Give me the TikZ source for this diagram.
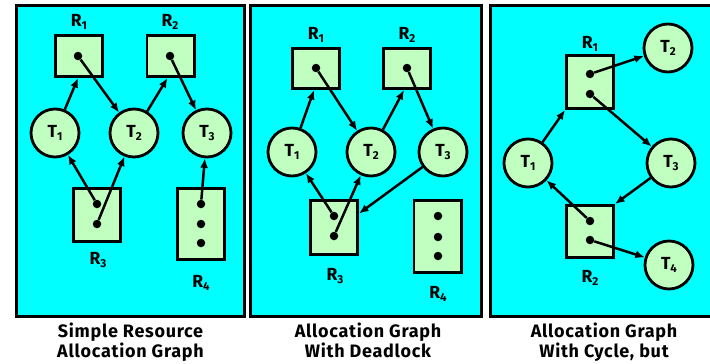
\documentclass[tikz,border=0pt]{standalone}
\usepackage{fontspec}
\setmainfont{Fira Sans}
\usetikzlibrary{arrows.meta}
\definecolor{panelcyan}{RGB}{0,255,255}
\definecolor{nodegreen}{RGB}{192,255,192}
\newcommand\lowidx[1]{\raisebox{-3pt}{\fontsize{11.5}{11.5}\selectfont #1}}
\tikzset{
  panel/.style={draw=black, line width=3pt, fill=panelcyan},
  proc/.style={circle, draw, line width=2.8pt, fill=nodegreen, minimum size=48pt,
    inner sep=0pt, font=\bfseries\fontsize{17.5}{17.5}\selectfont},
  res/.style={rectangle, draw, line width=2.8pt, fill=nodegreen, inner sep=0pt,
    minimum width=47.2pt},
  dot/.style={circle, fill=black, minimum size=8.5pt, inner sep=0pt},
  lbl/.style={anchor=base, inner sep=0pt, font=\bfseries\fontsize{17.5}{17.5}\selectfont},
  captext/.style={anchor=base, inner sep=0pt,
    font=\bfseries\fontsize{18}{18}\selectfont\addfontfeatures{LetterSpace=4}},
  conn/.style={line width=2.5pt, -{Latex[length=9.5pt,width=8pt]}},
}
\begin{document}
\begin{tikzpicture}[x=1pt,y=-1pt]
\useasboundingbox (0,0) rectangle (710,364);

% ---------- Simple resource allocation graph ----------
\draw[panel] (16.5,5.5) rectangle (244.5,316.5);
\node[res, minimum height=41.2pt] (aR1) at (79,56) {};
\node[res, minimum height=41.2pt] (aR2) at (170.5,56) {};
\node[res, minimum height=53.2pt] (aR3) at (97,215) {};
\node[res, minimum height=71.2pt] (aR4) at (201,224) {};
\node[proc] (aT1) at (55,133) {T\lowidx{1}};
\node[proc] (aT2) at (134,133) {T\lowidx{2}};
\node[proc] (aT3) at (207,133) {T\lowidx{3}};
\node[dot] (aR1a) at (78,56) {};
\node[dot] (aR2a) at (170,56) {};
\node[dot] (aR3a) at (97,204) {};
\node[dot] (aR3b) at (97,224) {};
\node[dot] (aR4a) at (201,204) {};
\node[dot] (aR4b) at (201,224) {};
\node[dot] (aR4c) at (201,243) {};
\node[lbl] (aL1) at (79,27) {R\lowidx{1}};
\node[lbl] (aL2) at (170,27) {R\lowidx{2}};
\node[lbl] (aL3) at (98,264) {R\lowidx{3}};
\node[lbl] (aL4) at (201,287) {R\lowidx{4}};
\draw[conn] (aT1) -- ([xshift=-1pt]aR1.south);
\draw[conn] (aR1a) -- (aT2);
\draw[conn] (aT2) -- ([xshift=-3pt]aR2.south);
\draw[conn] (aR2a) -- (aT3);
\draw[conn] (aR3a) -- (aT1);
\draw[conn] (aR3b) -- (aT2);
\draw[conn] (aR4a) -- (aT3);
\node[captext] (aC1) at (130.5,337) {Simple Resource};
\node[captext] (aC2) at (130.5,357) {Allocation Graph};

% ---------- Allocation graph with deadlock ----------
\draw[panel] (250,5.5) rectangle (481.5,316.5);
\node[res, minimum height=40.2pt] (bR1) at (316,68.5) {};
\node[res, minimum height=40.2pt] (bR2) at (407,68.5) {};
\node[res, minimum height=54.2pt] (bR3) at (334,227.5) {};
\node[res, minimum height=72.2pt] (bR4) at (437.5,236.5) {};
\node[proc] (bT1) at (292,152) {T\lowidx{1}};
\node[proc] (bT2) at (371,152) {T\lowidx{2}};
\node[proc] (bT3) at (443,152) {T\lowidx{3}};
\node[dot] (bR1a) at (316,68) {};
\node[dot] (bR2a) at (407,68) {};
\node[dot] (bR3a) at (334,216) {};
\node[dot] (bR3b) at (334,236) {};
\node[dot] (bR4a) at (438,216) {};
\node[dot] (bR4b) at (438,237) {};
\node[dot] (bR4c) at (438,256) {};
\node[lbl] (bL1) at (316,39) {R\lowidx{1}};
\node[lbl] (bL2) at (407,39) {R\lowidx{2}};
\node[lbl] (bL3) at (335,280) {R\lowidx{3}};
\node[lbl] (bL4) at (438,298) {R\lowidx{4}};
\draw[conn] (bT1) -- ([xshift=-2pt]bR1.south);
\draw[conn] (bR1a) -- (bT2);
\draw[conn] (bT2) -- ([xshift=-3pt]bR2.south);
\draw[conn] (bR2a) -- (bT3);
\draw[conn] (bR3a) -- (bT1);
\draw[conn] (bR3b) -- (bT2);
\draw[conn] (bT3) -- ([yshift=14pt]bR3.east);
\node[captext] (bC1) at (368,337) {Allocation Graph};
\node[captext] (bC2) at (368,357) {With Deadlock};

% ---------- Allocation graph with cycle ----------
\draw[panel] (490,5.5) rectangle (720,316.5);
\node[res, minimum height=53.2pt] (cR1) at (590,82) {};
\node[res, minimum height=52.2pt] (cR2) at (590,231.5) {};
\node[proc] (cT1) at (528,163) {T\lowidx{1}};
\node[proc] (cT2) at (668,48) {T\lowidx{2}};
\node[proc] (cT3) at (671,163) {T\lowidx{3}};
\node[proc] (cT4) at (669,265) {T\lowidx{4}};
\node[dot] (cR1a) at (590,74) {};
\node[dot] (cR1b) at (590,94) {};
\node[dot] (cR2a) at (590,221) {};
\node[dot] (cR2b) at (590,240) {};
\node[lbl] (cL1) at (590,48) {R\lowidx{1}};
\node[lbl] (cL2) at (590,282) {R\lowidx{2}};
\draw[conn] (cT1) -- (cR1.south west);
\draw[conn] (cR1a) -- (cT2);
\draw[conn] (cR1b) -- (cT3);
\draw[conn] (cT3) -- (cR2.north east);
\draw[conn] (cR2a) -- (cT1);
\draw[conn] (cR2b) -- (cT4);
\node[captext] (cC1) at (604,337) {Allocation Graph};
\node[captext] (cC2) at (604,357) {With Cycle, but};
\end{tikzpicture}
\end{document}
